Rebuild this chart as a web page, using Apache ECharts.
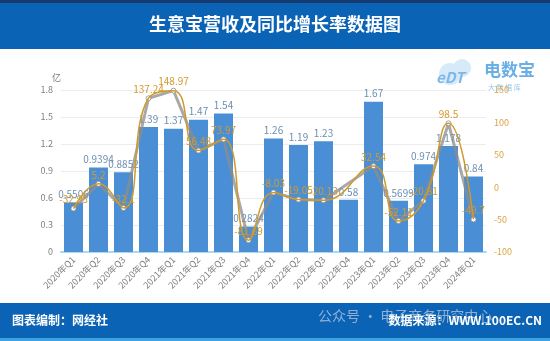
<!DOCTYPE html>
<html>
<head>
<meta charset="utf-8">
<script src="https://cdn.jsdelivr.net/npm/echarts@6/dist/echarts.min.js"></script>
<style>
  html, body { margin: 0; padding: 0; background: #fff; }
  #main { width: 550px; height: 341px; }
</style>
</head>
<body>
<div id="main"></div>
<script>
// 季度
var quarters = ['2020年Q1', '2020年Q2', '2020年Q3', '2020年Q4', '2021年Q1', '2021年Q2', '2021年Q3', '2021年Q4',
    '2022年Q1', '2022年Q2', '2022年Q3', '2022年Q4', '2023年Q1', '2023年Q2', '2023年Q3', '2023年Q4', '2024年Q1'];
// 营收（亿）
var revenue = [0.5506, 0.9394, 0.8852, 1.39, 1.37, 1.47, 1.54, 0.2824, 1.26, 1.19, 1.23, 0.58, 1.67, 0.5699, 0.974, 1.178, 0.84];
// 同比增长率（%）
var growth = [-32.95, 5.2, -32.1, 137.24, 148.97, 56.48, 73.97, -81.69, -8.03, -19.05, -20.13, null, 32.54, -52.11, -20.81, 98.5, -49.7];

var font = '"Noto Sans CJK SC", "Noto Sans", sans-serif';
var myChart = echarts.init(document.getElementById('main'));

var option = {
    backgroundColor: '#fff',
    textStyle: { fontFamily: font },
    animation: false,
    graphic: [
        // 顶部标题栏
        { type: 'rect', shape: { x: 0, y: 0, width: 550, height: 3 }, style: { fill: '#173a70' } },
        { type: 'rect', shape: { x: 0, y: 3, width: 550, height: 46 }, style: { fill: '#0b63b6' } },
        {
            type: 'text', left: 'center', top: 15,
            style: { text: '生意宝营收及同比增长率数据图', fill: '#fff', font: 'bold 18px ' + font }
        },
        // 底部栏
        { type: 'rect', shape: { x: 0, y: 303, width: 550, height: 35 }, style: { fill: '#0b63b6' } },
        { type: 'rect', shape: { x: 0, y: 338, width: 550, height: 3 }, style: { fill: '#3aa3e0' } },
        {
            type: 'text', left: 12, top: 314,
            style: { text: '图表编制：网经社', fill: '#fff', font: 'bold 12px ' + font }
        },
        {
            type: 'text', left: 318, top: 309,
            style: { text: '公众号 · 电子商务研究中心', fill: 'rgba(200,210,225,0.7)', font: '14px ' + font }
        },
        {
            type: 'text', right: 8, top: 314,
            style: { text: '数据来源：WWW.100EC.CN', fill: '#fff', font: 'bold 12px ' + font }
        },
        // 电数宝 logo
        { type: 'circle', shape: { cx: 450, cy: 74, r: 11 }, style: { fill: '#d6eaf8' } },
        { type: 'circle', shape: { cx: 462, cy: 68, r: 9 }, style: { fill: '#d6eaf8' } },
        {
            type: 'text', left: 436, top: 70,
            style: { text: 'eDT', fill: '#7fb8e6', font: 'italic bold 15px ' + font }
        },
        {
            type: 'text', left: 484, top: 61,
            style: { text: '电数宝', fill: '#6aaee6', font: 'bold 17px ' + font }
        },
        {
            type: 'text', left: 488, top: 84,
            style: { text: '大 数 据 库', fill: '#9cc7ea', font: '7px ' + font }
        }
    ],
    grid: { left: 61, right: 64, top: 90, bottom: 89 },
    xAxis: {
        type: 'category',
        data: quarters,
        axisLine: { lineStyle: { color: '#a8d8f2', width: 2 } },
        axisTick: { show: false },
        axisLabel: { rotate: 45, fontSize: 9, color: '#808080', interval: 0, margin: 6 }
    },
    yAxis: [
        {
            type: 'value', min: 0, max: 1.8, interval: 0.3,
            name: '亿', nameGap: 8,
            nameTextStyle: { color: '#777', fontSize: 9, align: 'right' },
            axisLine: { show: false }, axisTick: { show: false },
            axisLabel: { color: '#808080', fontSize: 9, formatter: function (v) { return +v.toFixed(1) + ''; } },
            splitLine: { lineStyle: { color: '#ececec' } }
        },
        {
            type: 'value', min: -100, max: 150, interval: 50,
            axisLine: { show: false }, axisTick: { show: false },
            axisLabel: { color: '#d9a441', fontSize: 9 },
            splitLine: { show: false }
        }
    ],
    series: [
        {
            name: '营收',
            type: 'bar',
            data: revenue,
            barCategoryGap: '24%',
            itemStyle: { color: '#4a8fd6' },
            label: { show: true, position: 'top', color: '#6d8fb3', fontSize: 10, distance: 3 }
        },
        {
            name: '同比增长率(点)',
            type: 'line',
            yAxisIndex: 1,
            data: growth,
            connectNulls: true,
            lineStyle: { color: 'rgba(140,140,140,0.75)', width: 3 },
            itemStyle: { color: '#fff', borderColor: 'rgba(140,140,140,0.8)', borderWidth: 1 },
            symbol: 'circle',
            symbolSize: 5,
            z: 3
        },
        {
            name: '同比增长率',
            type: 'line',
            yAxisIndex: 1,
            data: growth,
            connectNulls: true,
            smooth: 0.5,
            showSymbol: true,
            symbolSize: 0,
            lineStyle: { color: '#cf9a2c', width: 1.5 },
            itemStyle: { color: '#cf9a2c' },
            label: { show: true, position: 'top', color: '#d49a2a', fontSize: 10, distance: 4 },
            z: 4
        }
    ]
};

myChart.setOption(option);
</script>
</body>
</html>
